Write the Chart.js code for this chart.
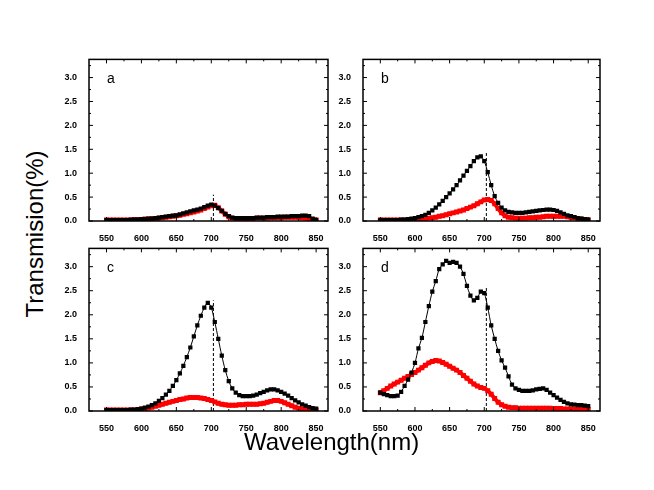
<!DOCTYPE html><html><head><meta charset="utf-8">
<script src="https://cdn.jsdelivr.net/npm/chart.js@4"></script>
<style>body{margin:0;background:#fff;width:654px;height:490px;position:relative;overflow:hidden;font-family:"Liberation Sans",Arial,sans-serif}
canvas{position:absolute}.lab{position:absolute;font-size:24px;color:#000;white-space:nowrap}</style></head><body>
<canvas id="pa" style="left:59px;top:50px" width="275" height="193"></canvas>
<canvas id="pb" style="left:333px;top:50px" width="273" height="193"></canvas>
<canvas id="pc" style="left:59px;top:239px" width="275" height="194"></canvas>
<canvas id="pd" style="left:333px;top:239px" width="273" height="194"></canvas>
<div class="lab" style="left:244px;top:428px">Wavelength(nm)</div>
<div class="lab" style="left:-65px;top:220px;transform:rotate(-90deg);width:200px;text-align:center">Transmision(%)</div>
<script>
const wavelengths=[];for(let w=550;w<=850;w+=5)wavelengths.push(w);
const xTicks=[550,600,650,700,750,800,850];
const yTicks=[0,0.5,1.0,1.5,2.0,2.5,3.0];
const markerWl=703;
const panelLabels=["a","b","c","d"];
const markerTops=[0.55,1.45,2.3,2.6];
const aBlack=[0.02,0.02,0.02,0.02,0.02,0.02,0.02,0.03,0.03,0.03,0.04,0.04,0.05,0.05,0.06,0.07,0.08,0.09,0.10,0.11,0.12,0.14,0.16,0.18,0.20,0.22,0.24,0.26,0.29,0.32,0.34,0.32,0.27,0.21,0.15,0.10,0.07,0.06,0.06,0.06,0.06,0.06,0.06,0.07,0.07,0.07,0.08,0.08,0.08,0.09,0.09,0.09,0.09,0.10,0.10,0.10,0.11,0.11,0.10,0.05,0.02];
const aRed=[0.02,0.02,0.02,0.02,0.02,0.02,0.02,0.02,0.03,0.03,0.03,0.04,0.04,0.05,0.05,0.06,0.07,0.08,0.09,0.10,0.11,0.12,0.14,0.15,0.17,0.19,0.21,0.23,0.26,0.29,0.32,0.33,0.28,0.21,0.14,0.09,0.06,0.05,0.05,0.05,0.05,0.05,0.05,0.06,0.06,0.06,0.06,0.07,0.07,0.07,0.07,0.08,0.08,0.08,0.08,0.08,0.07,0.06,0.04,0.03,0.02];
const bBlack=[0.02,0.02,0.02,0.02,0.02,0.02,0.03,0.03,0.04,0.05,0.06,0.08,0.10,0.13,0.17,0.22,0.28,0.35,0.42,0.50,0.58,0.66,0.75,0.85,0.95,1.05,1.15,1.25,1.33,1.35,1.25,1.02,0.75,0.52,0.38,0.28,0.22,0.19,0.18,0.17,0.17,0.17,0.18,0.19,0.20,0.21,0.22,0.23,0.24,0.24,0.23,0.21,0.18,0.15,0.12,0.10,0.08,0.06,0.05,0.04,0.03];
const bRed=[0.02,0.02,0.02,0.02,0.02,0.02,0.02,0.02,0.02,0.03,0.03,0.04,0.04,0.05,0.06,0.07,0.08,0.10,0.11,0.13,0.15,0.17,0.19,0.21,0.23,0.26,0.29,0.32,0.36,0.40,0.44,0.45,0.43,0.36,0.26,0.17,0.11,0.08,0.07,0.06,0.06,0.06,0.06,0.07,0.07,0.08,0.08,0.09,0.10,0.10,0.10,0.10,0.10,0.10,0.09,0.08,0.07,0.05,0.04,0.03,0.02];
const cBlack=[0.02,0.02,0.02,0.02,0.02,0.02,0.02,0.03,0.03,0.04,0.05,0.07,0.09,0.12,0.16,0.21,0.27,0.34,0.42,0.52,0.64,0.78,0.94,1.12,1.32,1.55,1.78,1.98,2.15,2.25,2.15,1.85,1.50,1.15,0.85,0.62,0.47,0.38,0.33,0.31,0.31,0.31,0.32,0.34,0.37,0.40,0.43,0.45,0.45,0.43,0.40,0.36,0.32,0.27,0.22,0.18,0.14,0.11,0.08,0.06,0.05];
const cRed=[0.02,0.02,0.02,0.02,0.02,0.02,0.02,0.02,0.02,0.03,0.04,0.05,0.06,0.08,0.10,0.12,0.14,0.16,0.18,0.20,0.22,0.24,0.25,0.27,0.28,0.28,0.28,0.27,0.26,0.24,0.22,0.19,0.16,0.14,0.13,0.12,0.12,0.12,0.13,0.13,0.14,0.14,0.14,0.14,0.15,0.16,0.18,0.20,0.22,0.22,0.20,0.17,0.14,0.11,0.08,0.06,0.04,0.03,0.02,0.02,0.02];
const dBlack=[0.38,0.35,0.33,0.31,0.31,0.32,0.40,0.52,0.65,0.80,1.00,1.30,1.52,1.85,2.18,2.48,2.70,2.95,3.05,3.12,3.08,3.10,3.08,3.00,2.85,2.60,2.40,2.30,2.35,2.48,2.45,2.15,1.78,1.50,1.25,1.05,0.90,0.72,0.55,0.47,0.44,0.42,0.42,0.42,0.43,0.45,0.46,0.47,0.44,0.38,0.33,0.28,0.23,0.19,0.16,0.14,0.13,0.12,0.12,0.11,0.10];
const dRed=[0.38,0.42,0.47,0.52,0.56,0.60,0.64,0.68,0.72,0.76,0.80,0.85,0.90,0.95,1.00,1.03,1.05,1.04,1.01,0.97,0.93,0.89,0.85,0.80,0.74,0.68,0.62,0.56,0.52,0.49,0.47,0.42,0.35,0.26,0.18,0.13,0.10,0.08,0.07,0.07,0.06,0.06,0.06,0.06,0.06,0.06,0.06,0.06,0.06,0.06,0.05,0.05,0.05,0.04,0.04,0.04,0.03,0.03,0.03,0.03,0.03];
const series=[[aBlack,aRed],[bBlack,bRed],[cBlack,cRed],[dBlack,dRed]];
const ids=["pa","pb","pc","pd"];
const frame={id:"frame",afterDatasetsDraw(ch,args,o){const c=ch.ctx,a=ch.chartArea,x=ch.scales.x,y=ch.scales.y;
 c.save();c.strokeStyle="#000";c.lineWidth=1.5;c.strokeRect(a.left,a.top,a.right-a.left,a.bottom-a.top);c.lineWidth=1;
 c.beginPath();
 for(let v=550;v<=850;v+=25){const p=x.getPixelForValue(v),L=v%50===0?4:2;c.moveTo(p,a.bottom);c.lineTo(p,a.bottom-L);c.moveTo(p,a.top);c.lineTo(p,a.top+L);}
 for(let v=0;v<=3.25;v+=0.25){const p=y.getPixelForValue(v),L=(Math.round(v*4)%2===0)?4:2;c.moveTo(a.left,p);c.lineTo(a.left+L,p);c.moveTo(a.right,p);c.lineTo(a.right-L,p);}
 c.stroke();
 c.fillStyle="#000";c.font="14px 'Liberation Sans',Arial";c.fillText(o.label,a.left+18,a.top+24);c.restore();}};
ids.forEach((id,i)=>{
 const [bk,rd]=series[i];
 new Chart(document.getElementById(id),{type:"line",
  data:{datasets:[
   {data:wavelengths.map((w,k)=>({x:w,y:bk[k]})),borderColor:"#000",backgroundColor:"#000",borderWidth:1,pointStyle:"rect",pointRadius:3,pointBorderWidth:0,tension:0.3},
   {data:wavelengths.map((w,k)=>({x:w,y:rd[k]})),borderColor:"#f00",backgroundColor:"#f00",borderWidth:4,pointStyle:"rect",pointRadius:3.5,pointBorderWidth:0,tension:0.3},
   {data:[{x:markerWl,y:0},{x:markerWl,y:markerTops[i]}],borderColor:"#000",borderWidth:1,borderDash:[3,2],pointRadius:0}
  ]},
  options:{responsive:false,animation:false,layout:{padding:{top:4,right:6,left:0,bottom:0}},
   plugins:{legend:{display:false},tooltip:{enabled:false},frame:{label:panelLabels[i]}},
   scales:{
    x:{type:"linear",min:525,max:867,grid:{display:false},border:{display:false},
     afterBuildTicks:s=>{s.ticks=xTicks.map(v=>({value:v}))},afterFit:s=>{s.height=22},
     ticks:{color:"#000",font:{size:9,weight:"bold",family:"'Liberation Sans',Arial"},maxRotation:0,padding:4,callback:v=>v}},
    y:{min:0,max:3.38,grid:{display:false},border:{display:false},
     afterBuildTicks:s=>{s.ticks=yTicks.map(v=>({value:v}))},afterFit:s=>{s.width=30},
     ticks:{color:"#000",font:{size:9,weight:"bold",family:"'Liberation Sans',Arial"},padding:4,callback:v=>v.toFixed(1)}}}},
  plugins:[frame]});
});
</script></body></html>
